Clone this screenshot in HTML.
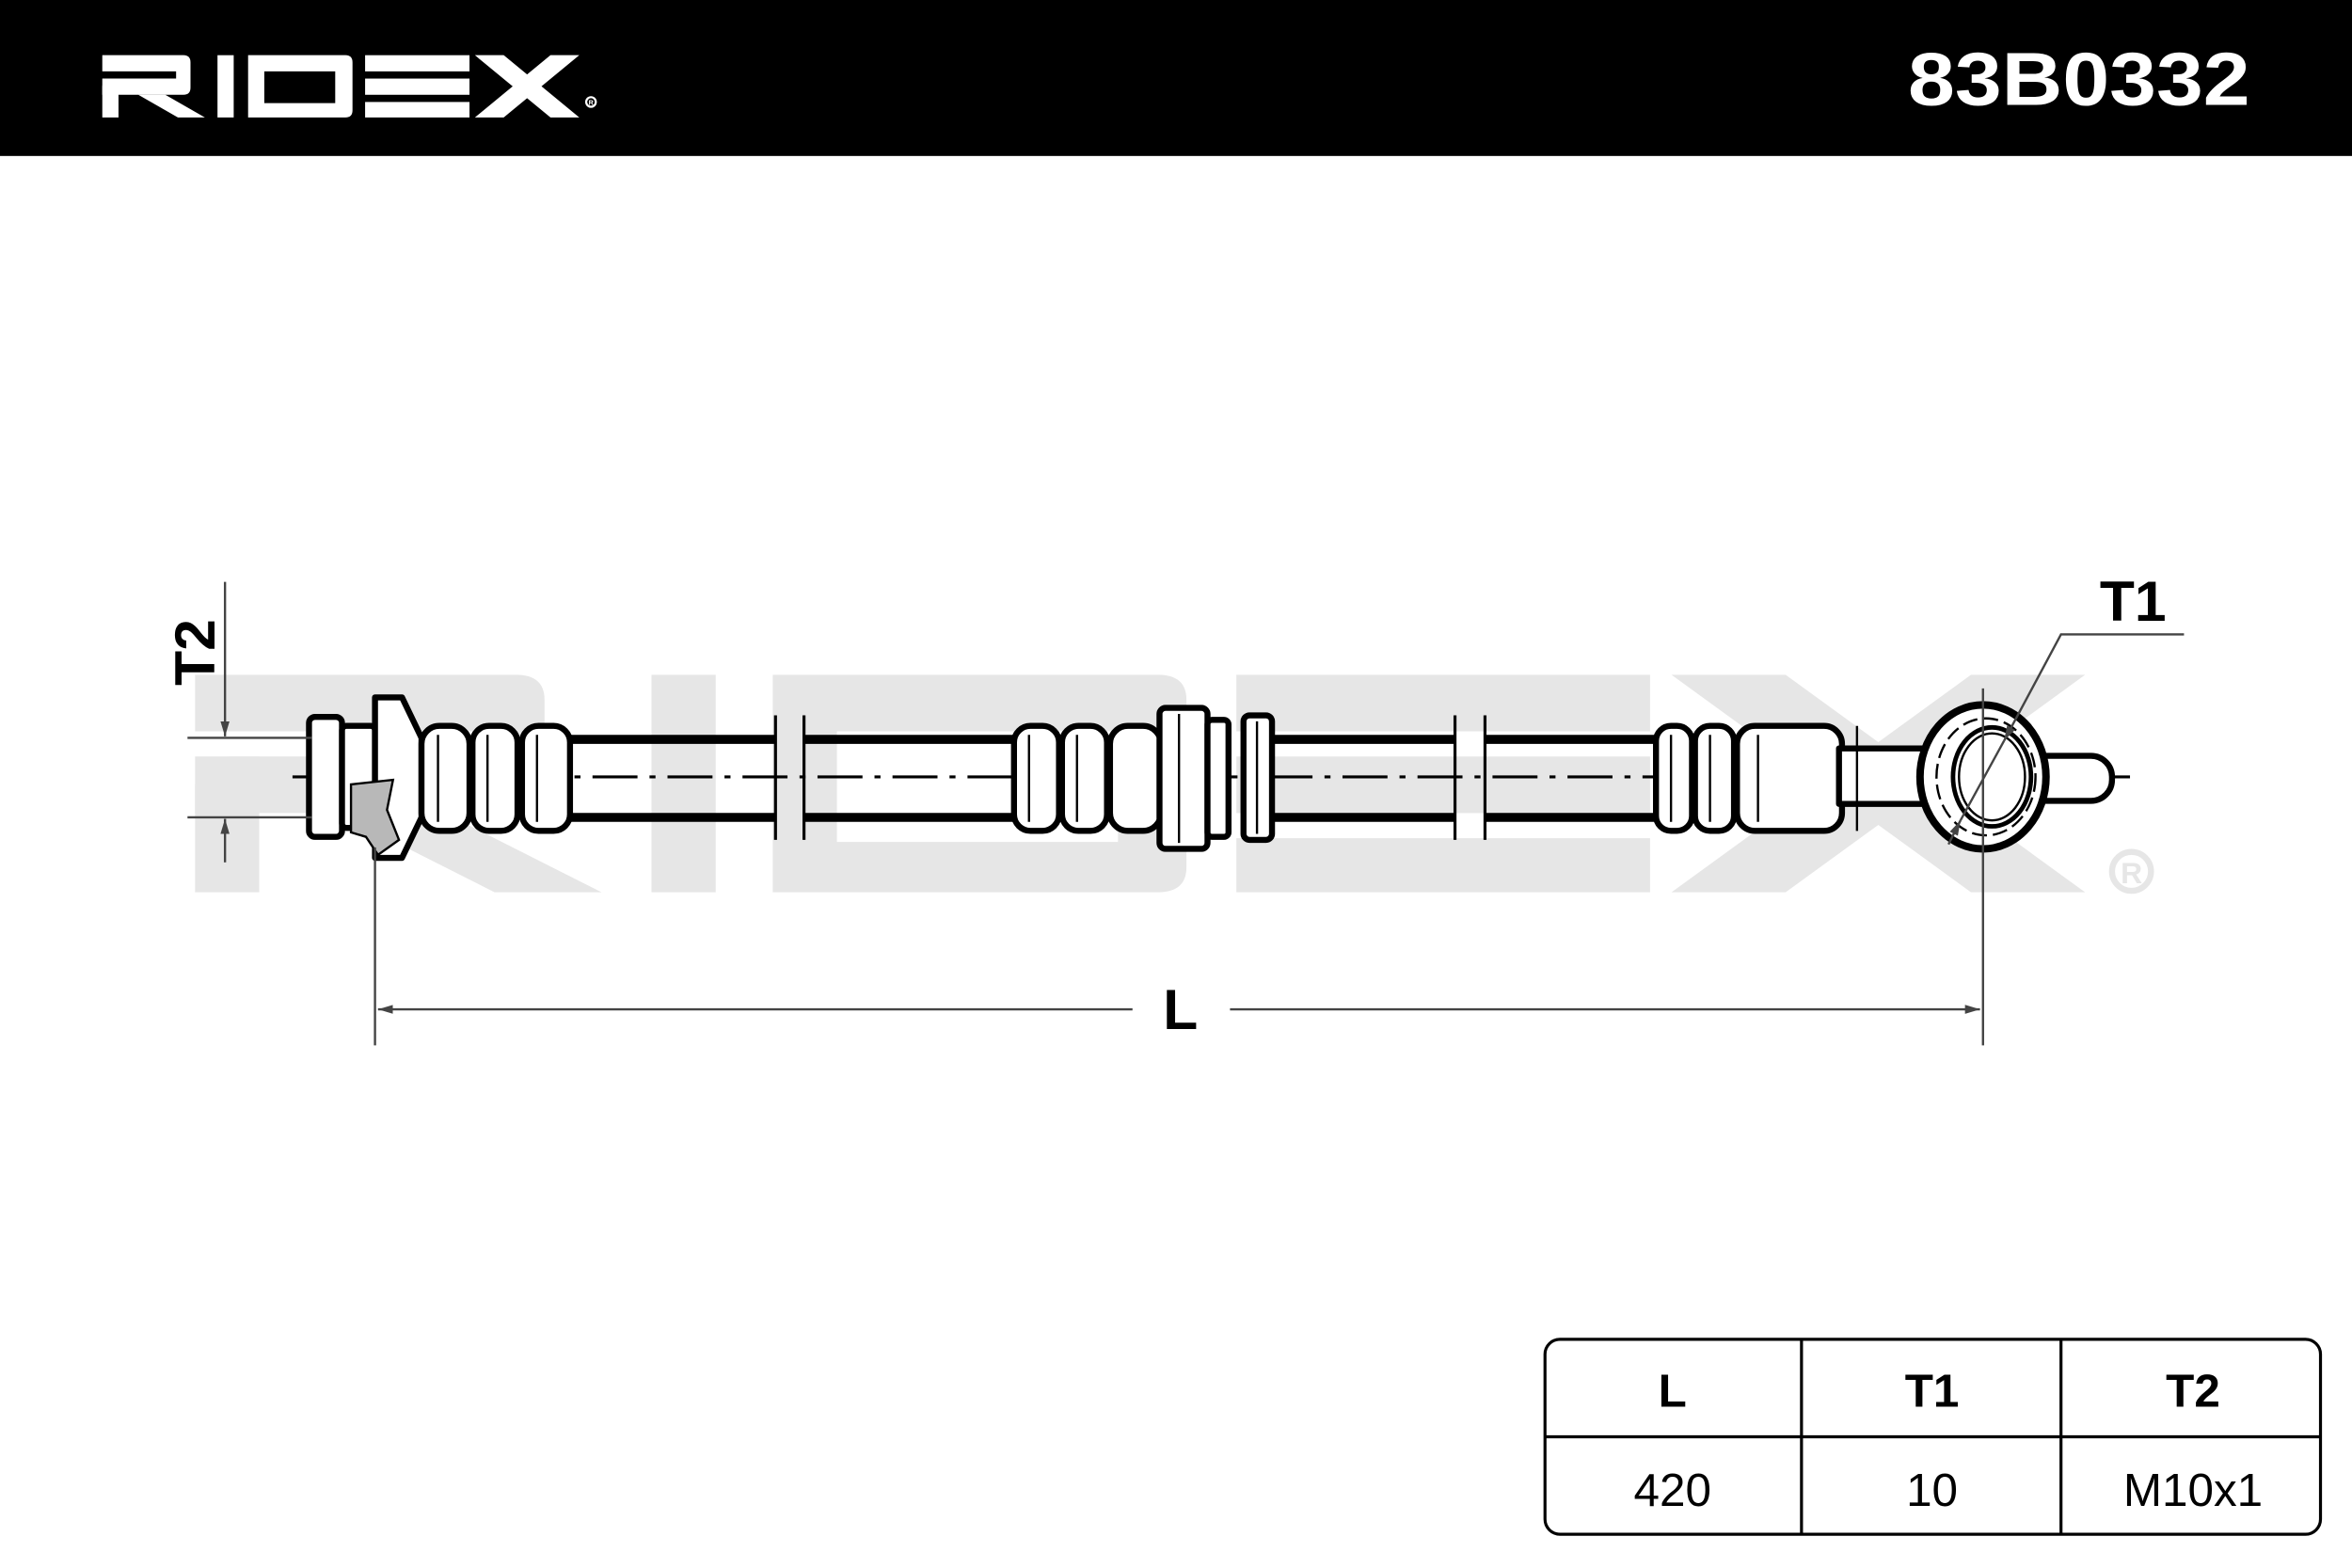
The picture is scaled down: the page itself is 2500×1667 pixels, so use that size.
<!DOCTYPE html>
<html><head><meta charset="utf-8"><style>
html,body{margin:0;padding:0;background:#fff;}
svg{display:block;}
text{font-family:"Liberation Sans",Arial,sans-serif;}
</style></head><body>
<svg width="2500" height="1667" viewBox="0 0 1568 1045.5" preserveAspectRatio="none" xmlns="http://www.w3.org/2000/svg">
<defs>
<g id="logo">
  <path d="M75 75 H300 Q320 75 320 95 V165 Q320 185 300 185 H75 Z M75 140 H280 V120 H75 Z" fill-rule="evenodd"/>
  <path d="M100 140 H120 V248 H75 V165 Q75 140 100 140 Z"/>
  <polygon points="175,185 250,185 360,248 285,248"/>
  <rect x="395" y="75" width="45" height="173"/>
  <path d="M480 75 H750 Q770 75 770 95 V228 Q770 248 750 248 H480 V120 H525 V208 H722 V120 H480 Z" fill-rule="evenodd"/>
  <rect x="805" y="75" width="290" height="45"/>
  <rect x="805" y="140" width="290" height="45"/>
  <rect x="805" y="205" width="290" height="43"/>
  <polygon points="1110,75 1190,75 1400,248 1320,248"/>
  <polygon points="1320,75 1400,75 1190,248 1110,248"/>
</g>
<marker id="ar" viewBox="0 0 10 10" refX="10" refY="5" markerWidth="10" markerHeight="10" orient="auto-start-reverse" markerUnits="userSpaceOnUse">
  <path d="M0 2 L10 5 L0 8 Z" fill="#444"/>
</marker>
</defs>

<!-- header -->
<rect x="0" y="0" width="1568" height="104" fill="#000"/>
<g fill="#fff" transform="translate(50.2,18.8) scale(0.24)"><use href="#logo"/></g>
<circle cx="394" cy="68" r="3.2" fill="none" stroke="#fff" stroke-width="1.4"/>
<text x="394" y="70" text-anchor="middle" font-size="4.5" font-weight="bold" fill="#fff">R</text>
<text x="1500" y="70" text-anchor="end" font-size="50" font-weight="bold" fill="#fff" textLength="228" lengthAdjust="spacingAndGlyphs">83B0332</text>

<!-- watermark -->
<g fill="#e6e6e6" transform="translate(58.7,387.1) scale(0.951,0.838)"><use href="#logo"/></g>
<circle cx="1421" cy="581" r="13" fill="none" stroke="#e6e6e6" stroke-width="4"/>
<text x="1421" y="589" text-anchor="middle" font-size="20" font-weight="bold" fill="#e6e6e6">R</text>

<!-- centerline -->
<line x1="195" y1="518" x2="1420" y2="518" stroke="#000" stroke-width="2" stroke-dasharray="30 8 4 8"/>

<g stroke="#000" stroke-width="6" fill="#fff" stroke-linejoin="round">
  <line x1="380" y1="493" x2="517" y2="493"/><line x1="380" y1="545" x2="517" y2="545"/>
  <line x1="536" y1="493" x2="676" y2="493"/><line x1="536" y1="545" x2="676" y2="545"/>
  <line x1="848" y1="493" x2="970" y2="493"/><line x1="848" y1="545" x2="970" y2="545"/>
  <line x1="990" y1="493" x2="1104" y2="493"/><line x1="990" y1="545" x2="1104" y2="545"/>
</g>
<g stroke="#000" stroke-width="2">
  <line x1="517" y1="477" x2="517" y2="560"/><line x1="536" y1="477" x2="536" y2="560"/>
  <line x1="970" y1="477" x2="970" y2="560"/><line x1="990" y1="477" x2="990" y2="560"/>
</g>

<g stroke="#000" stroke-width="4" fill="#fff" stroke-linejoin="round">
  <rect x="206" y="478" width="22" height="80" rx="4"/>
  <rect x="228" y="484" width="22" height="68" rx="3"/>
  <polygon points="250,465 268,465 281,492 281,545 268,572 250,572"/>
  <rect x="281" y="484" width="32" height="70" rx="12"/>
  <rect x="315" y="484" width="30" height="70" rx="11"/>
  <rect x="348" y="484" width="32" height="70" rx="11"/>
  <rect x="676" y="484" width="30" height="70" rx="11"/>
  <rect x="708" y="484" width="30" height="70" rx="11"/>
  <rect x="740" y="484" width="34" height="70" rx="12"/>
  <rect x="773" y="472" width="32" height="94" rx="4"/>
  <rect x="805" y="480" width="14" height="78" rx="3"/>
  <rect x="829" y="477" width="19" height="83" rx="4"/>
  <rect x="1104" y="484" width="24" height="70" rx="10"/>
  <rect x="1130" y="484" width="26" height="70" rx="10"/>
  <rect x="1158" y="484" width="70" height="70" rx="12"/>
  <rect x="1226" y="499" width="58" height="37"/>
  <rect x="1340" y="504" width="68" height="30" rx="14"/>
  <ellipse cx="1322" cy="518" rx="42" ry="48" stroke-width="5"/>
</g>
<g fill="none" stroke="#000">
  <ellipse cx="1324" cy="518" rx="33" ry="39" stroke-width="1.5" stroke-dasharray="10 4"/>
  <ellipse cx="1328" cy="518" rx="26" ry="33" stroke-width="3"/>
  <ellipse cx="1328" cy="518" rx="22" ry="29" stroke-width="1.5"/>
  <line x1="292" y1="490" x2="292" y2="548" stroke-width="1.5"/>
  <line x1="325" y1="490" x2="325" y2="548" stroke-width="1.5"/>
  <line x1="358" y1="490" x2="358" y2="548" stroke-width="1.5"/>
  <line x1="686" y1="490" x2="686" y2="548" stroke-width="1.5"/>
  <line x1="718" y1="490" x2="718" y2="548" stroke-width="1.5"/>
  <line x1="786" y1="476" x2="786" y2="562" stroke-width="1.5"/>
  <line x1="838" y1="481" x2="838" y2="556" stroke-width="1.5"/>
  <line x1="1114" y1="490" x2="1114" y2="548" stroke-width="1.5"/>
  <line x1="1140" y1="490" x2="1140" y2="548" stroke-width="1.5"/>
  <line x1="1172" y1="490" x2="1172" y2="548" stroke-width="1.5"/>
  <line x1="1238" y1="484" x2="1238" y2="554" stroke-width="1.5"/>
</g>
<polygon points="234,523 262,520 258,540 266,560 252,570 244,558 234,555" fill="#b8b8b8" stroke="#000" stroke-width="1.5"/>

<g stroke="#444" stroke-width="1.5" fill="none">
  <line x1="125" y1="492" x2="208" y2="492"/>
  <line x1="125" y1="545" x2="208" y2="545"/>
  <line x1="150" y1="388" x2="150" y2="491" marker-end="url(#ar)"/>
  <line x1="150" y1="575" x2="150" y2="546" marker-end="url(#ar)"/>
  <line x1="250" y1="565" x2="250" y2="697"/>
  <line x1="1322" y1="459" x2="1322" y2="697"/>
  <line x1="252" y1="673" x2="755" y2="673" marker-start="url(#ar)"/>
  <line x1="820" y1="673" x2="1320" y2="673" marker-end="url(#ar)"/>
  <polyline points="1456,423 1374,423 1336,494" marker-end="url(#ar)"/>
  <line x1="1299" y1="563" x2="1307" y2="547" marker-end="url(#ar)"/>
  <line x1="1336" y1="494" x2="1307" y2="547"/>
</g>
<text x="787" y="686" text-anchor="middle" font-size="38" font-weight="bold">L</text>
<text x="1422" y="414" text-anchor="middle" font-size="38" font-weight="bold">T1</text>
<text transform="translate(143,435) rotate(-90)" text-anchor="middle" font-size="38" font-weight="bold">T2</text>

<g stroke="#000" stroke-width="2" fill="none">
  <rect x="1030" y="893" width="517" height="130" rx="10"/>
  <line x1="1030" y1="958" x2="1547" y2="958"/>
  <line x1="1201" y1="893" x2="1201" y2="1023"/>
  <line x1="1374" y1="893" x2="1374" y2="1023"/>
</g>
<g font-size="31" text-anchor="middle">
  <text x="1115" y="938" font-weight="bold">L</text>
  <text x="1288" y="938" font-weight="bold">T1</text>
  <text x="1462" y="938" font-weight="bold">T2</text>
  <text x="1115" y="1004">420</text>
  <text x="1288" y="1004">10</text>
  <text x="1462" y="1004">M10x1</text>
</g>
</svg>
</body></html>
